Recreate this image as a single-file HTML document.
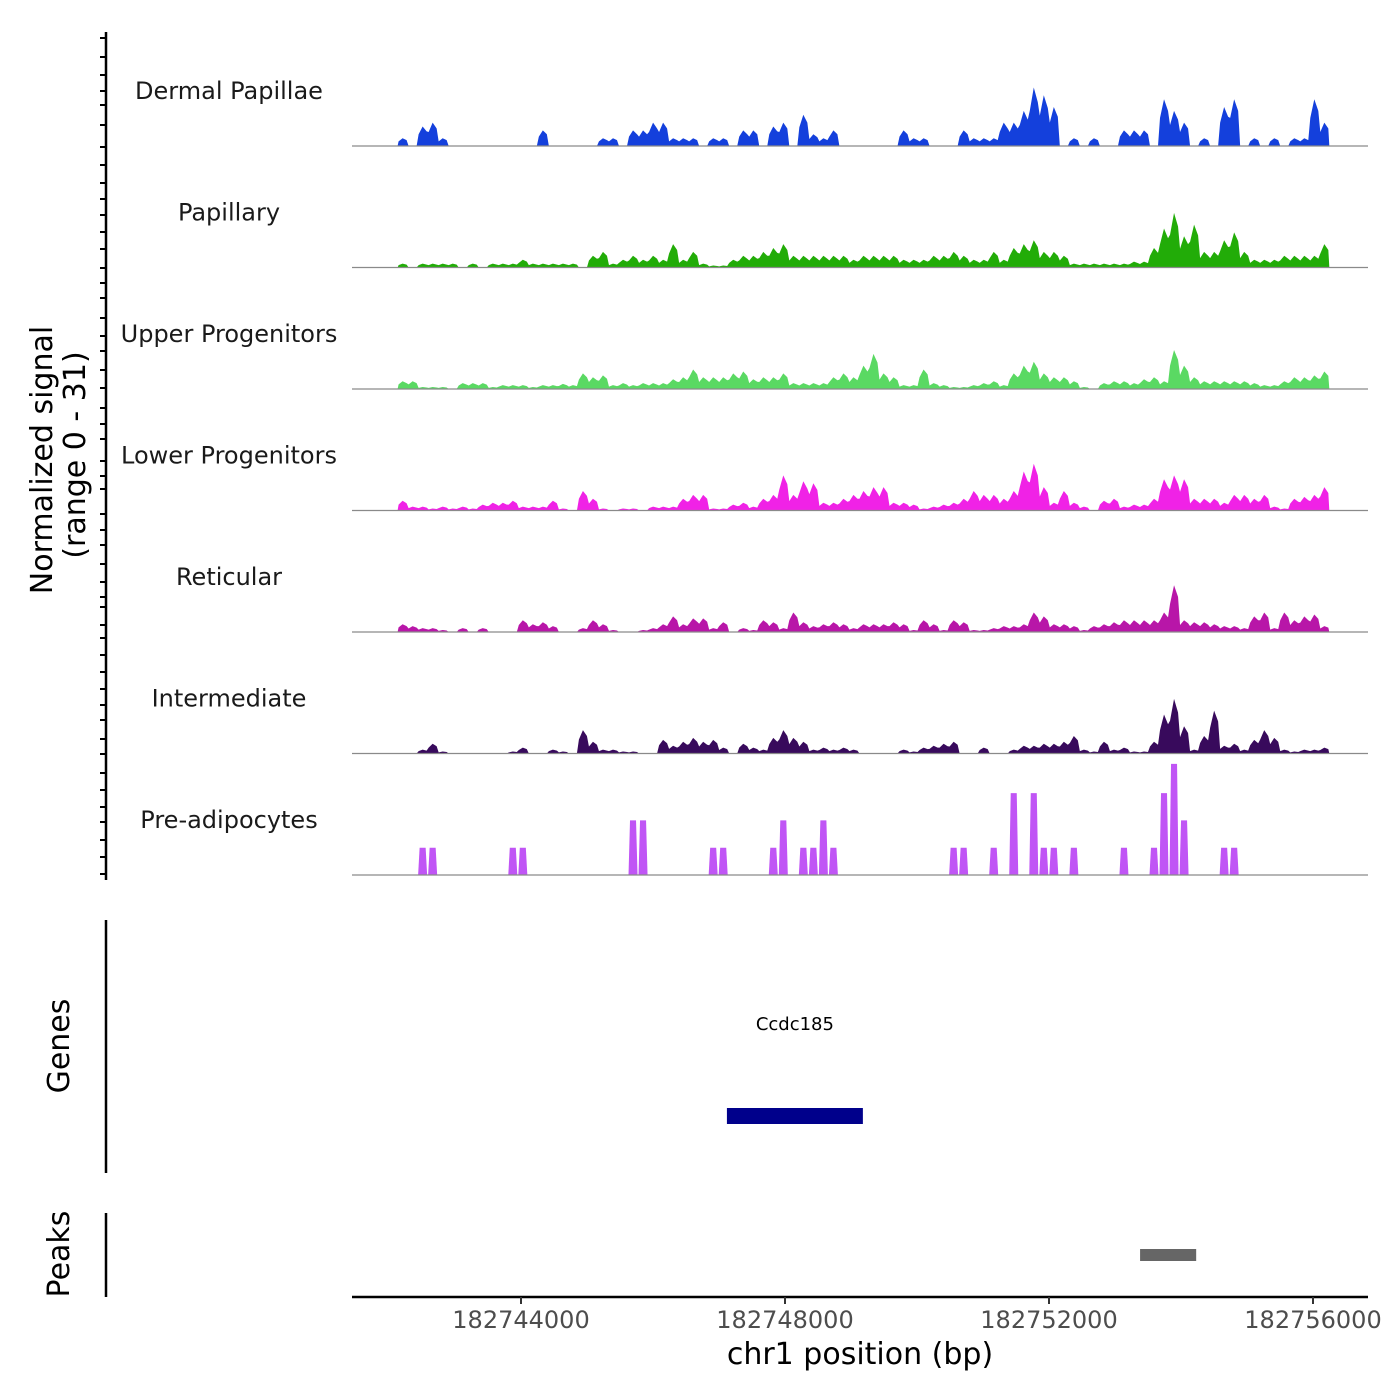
<!DOCTYPE html>
<html><head><meta charset="utf-8">
<style>
html,body{margin:0;padding:0;background:#fff;}
svg{display:block;font-family:"DejaVu Sans","Liberation Sans",sans-serif;}
</style></head>
<body>
<svg id="chart" width="1400" height="1400" viewBox="0 0 1400 1400" xmlns="http://www.w3.org/2000/svg">
<g id="yaxis">
<line x1="106" y1="32" x2="106" y2="880" stroke="#000" stroke-width="2.5"/>
</g>
<text transform="translate(52,460) rotate(-90)" text-anchor="middle" font-size="30">Normalized signal</text>
<text transform="translate(85,455) rotate(-90)" text-anchor="middle" font-size="30">(range 0 - 31)</text>
<g id="tracks"></g>

<line x1="106" y1="920" x2="106" y2="1173" stroke="#000" stroke-width="2.5"/>
<text transform="translate(69,1046) rotate(-90)" text-anchor="middle" font-size="30">Genes</text>
<g id="genes"></g>

<line x1="106" y1="1213" x2="106" y2="1297" stroke="#000" stroke-width="2.5"/>
<text transform="translate(69,1254) rotate(-90)" text-anchor="middle" font-size="30">Peaks</text>
<g id="peaks"></g>

<g id="xaxis">
<line x1="352" y1="1297" x2="1368" y2="1297" stroke="#000" stroke-width="2.5"/>
</g>
<text x="860" y="1364" text-anchor="middle" font-size="30">chr1 position (bp)</text>
</svg>
<script>
const trackNames = ["Dermal Papillae","Papillary","Upper Progenitors","Lower Progenitors","Reticular","Intermediate","Pre-adipocytes"];
const trackColors = ["#1440dc","#22ac08","#5ad963","#f022e6","#b816a8","#380a5c","#c055f5"];
const dermalPapillae = [2,0,5,6,2,0,0,0,0,0,0,0,0,0,4,0,0,0,0,0,2,2,0,4,4,6,6,2,2,2,0,2,2,0,4,4,0,5,6,0,8,3,2,4,0,0,0,0,0,0,4,2,2,0,0,0,4,2,2,2,6,6,9,15,13,10,0,2,0,2,0,0,4,4,4,0,12,9,6,0,2,0,10,12,0,2,0,2,0,2,2,12,6];
const papillary = [1,0,1,1,1,1,0,1,0,1,1,1,2,1,1,1,1,1,0,3,4,1,2,3,2,3,2,6,2,4,1,0.5,0.5,2,3,3,4,5,6,3,3,3,3,3,3,2,3,3,3,3,2,2,2,3,3,4,3,2,2,4,2,5,6,7,4,4,3,1,1,1,1,1,1,1.5,1.5,5,10,14,8,11,4,4,7,9,4,2,2,2,3,3,3,3,6];
const upperProgenitors = [2,2,0.5,0.5,0.5,0,1.5,1.5,1.5,0.5,1,1,1,0.5,1,1,1.3,1,4,3,3.5,1,1.5,1,1.5,1.5,1.5,2.5,3,5,3,3,3,4,4.5,2.5,3,3,4,1.5,1.5,1.5,1.5,3,4,3,6,9,4,3,1,1,5,1.5,1,0.5,0.5,1,1.5,2,1,4,6,7,4,3,3,2,0.5,0,1.5,2,2,1.5,2.5,3,2,10,6,3,2,2,2,2,2,1.5,1,1,2,3,3,3.5,4.5];
const lowerProgenitors = [2.5,1,1,0.5,1,0.5,1,0.5,1.5,2,2,2.5,1,1,1,2.5,0.5,0,5,3,0.5,0,0.5,0.5,0,1,1,1,3,4,4,0.5,0.5,1.5,2,1,3,4,9,4,7.5,7,2,2,3,4,5,6,6,2,2,1.5,0.5,1,1.5,2,3,5,4,4,3,5,10,12,6,2,5,2,1,0,2.5,3,1,1.5,1.5,3,8,9,8,3,3,3,2,4,4,3,4,1,0.5,3,3.5,4,6];
const reticular = [2,1.5,1,1,0.5,0,1,0,1,0,0,0,3,2,2.5,1.5,0,0,1,3,2,0.5,0,0,0.5,1,2,4,2,3.5,3.5,1,2.5,0,1,0.5,3,2.5,1,5,2.5,1.5,2,2.5,2,1,2,2,2,2.5,2,0.5,3,2,0.5,3,2.5,0.5,0.5,1,1.5,1.5,2,5,4,2,2,1.5,0.5,1.5,2,2.5,3,3,3,3,5,12,3,2.5,2.5,2,1.5,1.5,1,4,5,1,5,3,4,4.5,1.5];
const intermediate = [0,0,1,2.5,0.5,0,0,0,0,0,0,0.5,1.5,0,0,1,0.5,0,6,3,1,1,0.5,0.5,0,0,3.5,2,3,4,3,3.5,1.5,0,2.5,1.5,1,4,6,4,3,1,1.5,1,1.5,1,0,0,0,0,1,0.5,1.5,2,2.5,3,0,0,1.5,0,0,1,2,2,2.5,2.5,3,4.5,1,0.5,3,1,1.5,0.5,0.5,3,10,14,7,1,4.5,11,2,2.5,1,3.5,6,4,1,0.5,1,1,1.5];
const preAdipocytes = [0,0,7,7,0,0,0,0,0,0,0,7,7,0,0,0,0,0,0,0,0,0,0,14,14,0,0,0,0,0,0,7,7,0,0,0,0,7,14,0,7,7,14,7,0,0,0,0,0,0,0,0,0,0,0,7,7,0,0,7,0,21,0,21,7,7,0,7,0,0,0,0,7,0,0,7,21,28.5,14,0,0,0,7,7,0,0,0,0,0,0,0,0,0];
const trackData = [dermalPapillae,papillary,upperProgenitors,lowerProgenitors,reticular,intermediate,preAdipocytes];
const xTicks = [182744000,182748000,182752000,182756000];
const xTickLabels = ["182744000","182748000","182752000","182756000"];
const genes = ["Ccdc185"];
const geneStarts = [182747120];
const geneEnds = [182749180];
const peakStarts = [182753380];
const peakEnds = [182754230];
const yTickPos = [38,57,75,91,105,125,147,165,183,199,215,232,249,268,283,298,318,336,351,370,388,408,424,439,461,476,489,514,530,545,564,582,597,607,625,638,655,672,689,705,720,739,754,773,790,807,822,840,857,874];

const NS="http://www.w3.org/2000/svg";
const BIN_BP = 151.8, FIRST_BP = 182742130;
function xs(bp){ return 521 + (bp-182744000)*(264/4000); }
const PX_PER_UNIT = 3.9;
function ys(v, base){ return base - v*PX_PER_UNIT; }
function mk(tag, attrs, parent){ const e=document.createElementNS(NS,tag); for(const k in attrs) e.setAttribute(k,attrs[k]); parent.appendChild(e); return e; }

const yaxis=document.getElementById('yaxis');
yTickPos.forEach(y=>{
  const t=mk('line',{x1:100,x2:106,y1:y,y2:y,stroke:'#000','stroke-width':2},yaxis);
  
  
});

const tracks=document.getElementById('tracks');
trackNames.forEach((name,ti)=>{
  const base = 146 + ti*121.5;
  const g=mk('g',{},tracks);
  
  
  const lab=mk('text',{x:229,y:base-47,'text-anchor':'middle','font-size':24,fill:'#1a1a1a'},g);
  lab.textContent=name;
  
  
  const vals=trackData[ti];
  if(ti===6){
    vals.forEach((v,i)=>{
      if(v<=0) return;
      const x0=xs(FIRST_BP+i*BIN_BP+BIN_BP*0.05), x1=xs(FIRST_BP+(i+0.95)*BIN_BP);
      const r=mk('path',{d:`M${x0},${base} L${x0+1.5},${ys(v,base)} L${x1-1.5},${ys(v,base)} L${x1},${base} Z`,fill:trackColors[ti]},g);
      
      
    });
  } else {
    let d=`M${xs(FIRST_BP)},${base}`;
    vals.forEach((v,i)=>{
      const xa=xs(FIRST_BP+i*BIN_BP+BIN_BP*0.1), xb=xs(FIRST_BP+(i+0.9)*BIN_BP);
      const xc=xs(FIRST_BP+(i+0.5)*BIN_BP);
      if(v<=0){ d+=` L${xa},${base} L${xb},${base}`; }
      else { d+=` L${xa},${ys(v*0.6,base)} L${xc},${ys(v,base)} L${xb},${ys(v*0.75,base)}`; }
    });
    d+=` L${xs(FIRST_BP+vals.length*BIN_BP)},${base} Z`;
    const p=mk('path',{d:d,fill:trackColors[ti]},g);
    
    
  }
  const bl=mk('line',{x1:352,x2:1368,y1:base,y2:base,stroke:'#8a8a8a','stroke-width':1.2},g);
  
  
});

const gG=document.getElementById('genes');
genes.forEach((gn,i)=>{
  const x0=xs(geneStarts[i]), x1=xs(geneEnds[i]);
  const r=mk('rect',{x:x0,y:1108,width:x1-x0,height:16,fill:'#00008b'},gG);
  
  
  const t=mk('text',{x:(x0+x1)/2,y:1030,'text-anchor':'middle','font-size':18,fill:'#000'},gG);
  t.textContent=gn;
  
  
});
const pG=document.getElementById('peaks');
peakStarts.forEach((s,i)=>{
  const r=mk('rect',{x:xs(s),y:1249,width:xs(peakEnds[i])-xs(s),height:12,fill:'#666'},pG);
  
  
});
const xa=document.getElementById('xaxis');
xTicks.forEach((t,i)=>{
  const x=xs(t);
  const l=mk('line',{x1:x,x2:x,y1:1297,y2:1304,stroke:'#333','stroke-width':2},xa);
  
  
  const tx=mk('text',{x:x,y:1328,'text-anchor':'middle','font-size':24,fill:'#4d4d4d'},xa);
  tx.textContent=xTickLabels[i];
  
  
});
</script>
</body></html>
